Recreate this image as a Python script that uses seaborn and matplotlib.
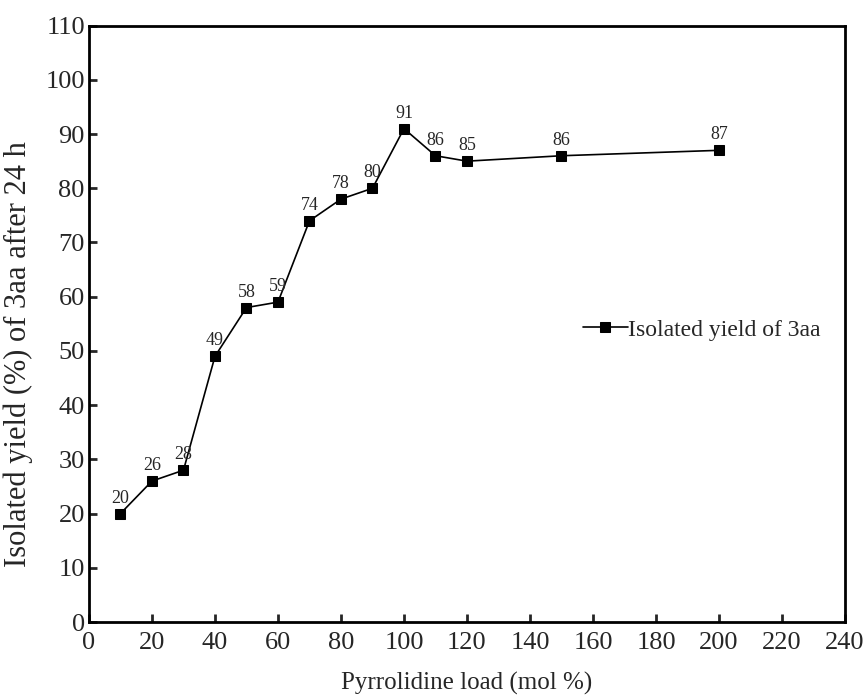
import matplotlib
matplotlib.use('Agg')
import numpy as np
import pandas as pd
import seaborn as sns
import matplotlib.pyplot as plt

load = [10, 20, 30, 40, 50, 60, 70, 80, 90, 100, 110, 120, 150, 200]
yield_pct = [20, 26, 28, 49, 58, 59, 74, 78, 80, 91, 86, 85, 86, 87]
series_name = 'Isolated yield of 3aa'

df = pd.DataFrame({'load': load, 'yield': yield_pct})

sns.set_style('ticks')
plt.rcParams['font.family'] = ['Liberation Serif', 'DejaVu Serif']

fig = plt.figure(figsize=(8.68, 7.0), dpi=100)
ax = fig.add_axes([0.1025, 0.1114, 0.871, 0.852])
sns.lineplot(data=df, x='load', y='yield', color='black', marker='s',
             markersize=6.5, markeredgecolor='black', linewidth=1.2,
             label=series_name, ax=ax)

for x, y in zip(load, yield_pct):
    ax.annotate(str(y), (x, y), textcoords='offset points', xytext=(0, 5),
                ha='center', va='bottom', fontsize=13)

ax.set_xlim(0, 240)
ax.set_ylim(0, 110)
ax.set_xticks(np.arange(0, 241, 20))
ax.set_yticks(np.arange(0, 111, 10))
ax.tick_params(direction='in', length=6, width=2, labelsize=19, pad=3)
ax.tick_params(axis='x', pad=7)
for s in ax.spines.values():
    s.set_linewidth(2)
    s.set_color('black')
ax.set_xlabel('Pyrrolidine load (mol %)', fontsize=18, labelpad=13)
ax.set_ylabel('Isolated yield (%) of 3aa after 24 h', fontsize=22)
ax.yaxis.set_label_coords(-0.074, 0.45)

ax.legend(loc='center left', bbox_to_anchor=(0.653, 0.49), frameon=False,
          fontsize=17, handlelength=1.9, handletextpad=0.0, borderaxespad=0,
          borderpad=0)

fig.savefig('out.png', dpi=100)
